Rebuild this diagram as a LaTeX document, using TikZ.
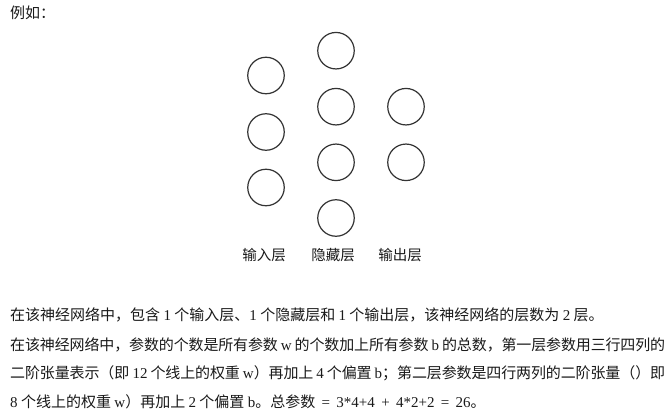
\documentclass[tikz,border=0pt]{standalone}
\usepackage{fontspec}
\setmainfont{Noto Sans CJK SC}
\newfontfamily\lat{Liberation Serif}
\newfontfamily\latw{Liberation Serif}[WordSpace=1.3]
\XeTeXlinebreaklocale "zh"
\XeTeXlinebreakskip=0pt plus 3pt minus 0.4pt
\definecolor{ink}{HTML}{333333}
\definecolor{txtc}{HTML}{1A1A1A}
\newcommand{\jline}[1]{\parbox[b]{655pt}{\parfillskip=0pt\relax #1}}
\begin{document}
\begin{tikzpicture}[x=1pt,y=-1pt,
  neuron/.style={circle,draw=ink,line width=1.2pt,minimum size=36.5pt,inner sep=0pt},
  txt/.style={anchor=base west,inner sep=0pt,font=\fontsize{15}{17}\selectfont,text=txtc},
  lbl/.style={anchor=base,inner sep=0pt,font=\fontsize{14.5}{16}\selectfont,text=txtc}]
\fill[white] (0,0) rectangle (665,415);
\useasboundingbox (0,0) rectangle (665,415);
% neurons
\node[neuron] (i1) at (266,75.5) {};
\node[neuron] (i2) at (266,132) {};
\node[neuron] (i3) at (266,187.5) {};
\node[neuron] (h1) at (336,50.7) {};
\node[neuron] (h2) at (336,106.7) {};
\node[neuron] (h3) at (336,162.3) {};
\node[neuron] (h4) at (336,218) {};
\node[neuron] (o1) at (406,106.7) {};
\node[neuron] (o2) at (406,162.3) {};
% labels
\node[lbl] (li) at (264,260.5) {输入层};
\node[lbl] (lh) at (333,260.5) {隐藏层};
\node[lbl] (lo) at (400,260.5) {输出层};
% texts
\node[txt] (eg) at (10,18) {例如：};
\node[txt] (p1) at (10,320.5) {在该神经网络中，包含 {\lat 1} 个输入层、{\lat 1} 个隐藏层和 {\lat 1} 个输出层，该神经网络的层数为 {\lat 2} 层。};
\node[txt] (p2a) at (10,350) {\jline{在该神经网络中，参数的个数是所有参数 {\lat w} 的个数加上所有参数 {\lat b} 的总数，第一层参数用三行四列的}};
\node[txt] (p2b) at (10,378.5) {\jline{二阶张量表示（即 {\lat 12} 个线上的权重 {\lat w}）再加上 {\lat 4} 个偏置 {\lat b}；第二层参数是四行两列的二阶张量（）即}};
\node[txt] (p2c) at (10,407.5) {{\lat 8} 个线上的权重 {\lat w}）再加上 {\lat 2} 个偏置 {\lat b}。总参数{\latw\ = 3*4+4 + 4*2+2 = 26}。};
\end{tikzpicture}
\end{document}
